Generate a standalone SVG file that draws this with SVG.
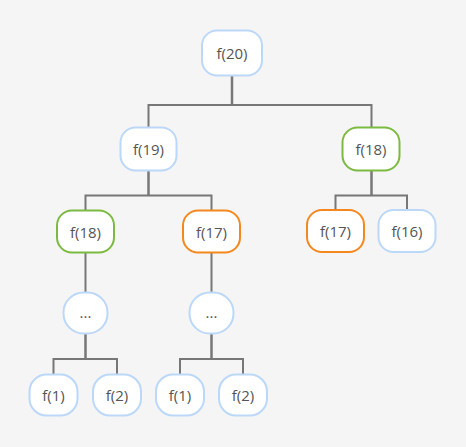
<svg xmlns="http://www.w3.org/2000/svg" width="466" height="447" viewBox="0 0 466 447">
<style>
.bg{fill:#f5f5f5}
.n rect{fill:#ffffff;stroke-width:2}
.blue rect{stroke:#bcd8f8}
.green rect{stroke:#7cba42}
.orange rect{stroke:#f4881e}
.n text{font-family:"Open Sans","Liberation Sans",sans-serif;font-size:15px;fill:#555555;text-anchor:middle;dominant-baseline:central}
.c path{fill:none;stroke:#777777;stroke-width:2}
.c .stem{stroke-width:2.5}
</style>
<rect class="bg" x="0" y="0" width="466" height="447"/>
<g class="c" id="connectors">
<path class="stem" d="M232 76V105"/>
<path d="M148.5 127V105H371.5V127"/>
<path class="stem" d="M148.5 171V195.5"/>
<path d="M85.5 210V195.5H211.5V210"/>
<path class="stem" d="M371.5 171V195.5"/>
<path d="M335.5 209V195.5H407V209"/>
<path d="M85.5 252V292"/>
<path d="M211.5 252V292"/>
<path class="stem" d="M85.5 334V359"/>
<path d="M53.5 374V359H117V374"/>
<path class="stem" d="M211.5 334V359"/>
<path d="M180 374V359H243V374"/>
</g>
<g id="n20" class="n blue"><rect x="202" y="30.5" width="60" height="45" rx="15"/><text x="232" y="53">f(20)</text></g>
<g id="n19" class="n blue"><rect x="120.5" y="127.5" width="56" height="43" rx="15"/><text x="148.5" y="149">f(19)</text></g>
<g id="n18a" class="n green"><rect x="342.5" y="127.5" width="57" height="43" rx="15"/><text x="371" y="149">f(18)</text></g>
<g id="n18b" class="n green"><rect x="57" y="210.5" width="57" height="42" rx="15"/><text x="85.5" y="231.5">f(18)</text></g>
<g id="n17a" class="n orange"><rect x="183" y="210.5" width="57" height="42" rx="15"/><text x="211.5" y="231.5">f(17)</text></g>
<g id="n17b" class="n orange"><rect x="307" y="210" width="57" height="42" rx="15"/><text x="335.5" y="231">f(17)</text></g>
<g id="n16" class="n blue"><rect x="378.5" y="210" width="57" height="42" rx="15"/><text x="407" y="231">f(16)</text></g>
<g id="d1" class="n blue"><rect x="63.5" y="292.5" width="44" height="41" rx="20"/><text x="85.5" y="312">...</text></g>
<g id="d2" class="n blue"><rect x="189.5" y="292.5" width="44" height="41" rx="20"/><text x="211.5" y="312">...</text></g>
<g id="l1" class="n blue"><rect x="29.5" y="374.5" width="48" height="41" rx="17"/><text x="53.5" y="395">f(1)</text></g>
<g id="l2" class="n blue"><rect x="93" y="374.5" width="48" height="41" rx="17"/><text x="117" y="395">f(2)</text></g>
<g id="l3" class="n blue"><rect x="156" y="374.5" width="48" height="41" rx="17"/><text x="180" y="395">f(1)</text></g>
<g id="l4" class="n blue"><rect x="219" y="374.5" width="48" height="41" rx="17"/><text x="243" y="395">f(2)</text></g>
</svg>
